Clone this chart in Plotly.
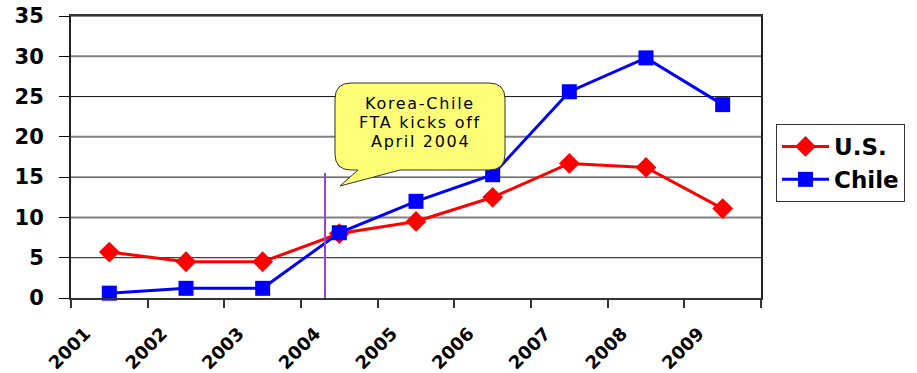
import plotly.graph_objects as go

years = ["2001", "2002", "2003", "2004", "2005", "2006", "2007", "2008", "2009"]
us_values = [5.7, 4.5, 4.5, 8.0, 9.5, 12.5, 16.7, 16.2, 11.1]
chile_values = [0.6, 1.2, 1.2, 8.1, 12.0, 15.3, 25.6, 29.8, 24.0]
y_ticks = [0, 5, 10, 15, 20, 25, 30, 35]
callout_lines = ["Korea-Chile", "FTA kicks off", "April 2004"]

W, H = 917, 373
L, T = 71, 16
PW, PH = 690, 282
R, B = W - L - PW, H - T - PH
YMAX = 35
NCAT = len(years)

# helpers mapping page-pixel positions to axis coordinates
def px2x(px):
    return (px - L) / (PW / NCAT) - 0.5

def py2y(py):
    return (T + PH - py) / (PH / YMAX)

BIG = "DejaVu Sans, Verdana, sans-serif"
SMALL = "DejaVu Sans, Arial, sans-serif"

fig = go.Figure()

# gridlines: the reference renders 10/20/30 grey and slightly thicker, 5/15/25/35 black
for i, v in enumerate(y_ticks[1:], start=1):
    grey = (i % 2 == 0)
    fig.add_shape(type="line", xref="paper", yref="y", x0=0, x1=1, y0=v, y1=v,
                  line=dict(color="#808080" if grey else "#111111", width=2 if grey else 1),
                  layer="between")

fig.add_trace(go.Scatter(
    x=years, y=us_values, name="U.S.", mode="lines+markers",
    line=dict(color="#FF0000", width=3),
    marker=dict(symbol="diamond", size=16, color="#FF0000"),
    cliponaxis=False,
))
fig.add_trace(go.Scatter(
    x=years, y=chile_values, name="Chile", mode="lines+markers",
    line=dict(color="#0000FF", width=3),
    marker=dict(symbol="square", size=15, color="#0000FF"),
    cliponaxis=False,
))

# Callout bubble (rounded rectangle with a tail)
x0, x1, y0, y1, r = 335, 505, 83, 170, 16
tail_l, tail_r, tip = 358, 400, (340, 186)
def P(px, py):
    return f"{px2x(px):.4f},{py2y(py):.4f}"
path = (
    f"M {P(x0 + r, y0)} L {P(x1 - r, y0)} Q {P(x1, y0)} {P(x1, y0 + r)} "
    f"L {P(x1, y1 - r)} Q {P(x1, y1)} {P(x1 - r, y1)} "
    f"L {P(tail_r, y1)} L {P(*tip)} L {P(tail_l, y1)} "
    f"L {P(x0 + r, y1)} Q {P(x0, y1)} {P(x0, y1 - r)} "
    f"L {P(x0, y0 + r)} Q {P(x0, y0)} {P(x0 + r, y0)} Z"
)
fig.add_shape(type="path", path=path, xref="x", yref="y",
              fillcolor="#FFFF77", line=dict(color="#333333", width=1), layer="above")
for i, line_text in enumerate(callout_lines):
    fig.add_annotation(x=px2x((x0 + x1) / 2), y=py2y(103 + 19 * i), xref="x", yref="y",
                       text=f'<span style="letter-spacing:1.7px">{line_text}</span>',
                       showarrow=False,
                       font=dict(family=SMALL, size=16, color="#000000"))

# Purple vertical marker line (April 2004)
fig.add_shape(type="line", xref="x", yref="y",
              x0=px2x(325), x1=px2x(325),
              y0=py2y(330), y1=py2y(173),
              line=dict(color="#A040D0", width=2), layer="above")

fig.update_layout(
    width=W, height=H,
    margin=dict(l=L, r=R, t=T, b=B, pad=0, autoexpand=False),
    paper_bgcolor="white", plot_bgcolor="white",
    font=dict(family=BIG, color="#000000"),
    showlegend=True,
    legend=dict(
        x=(776 - L) / PW, y=(T + PH - 124) / PH,
        xanchor="left", yanchor="top",
        bordercolor="#333333", borderwidth=1, bgcolor="white",
        font=dict(family=BIG, size=23, color="#000000", weight="bold"),
        itemwidth=47, tracegroupgap=0,
    ),
    xaxis=dict(
        type="category", range=[-0.5, NCAT - 0.5], automargin=False,
        tickson="boundaries", ticks="outside", ticklen=8, tickcolor="#333333",
        tickwidth=2,
        showline=True, linecolor="#333333", linewidth=2, mirror=True,
        showgrid=False, tickangle=-45, ticklabeloverflow="allow",
        tickfont=dict(family=BIG, size=18, color="#000000", weight="bold"),
        ticklabelshift=-24, ticklabelstandoff=16,
    ),
    yaxis=dict(
        range=[0, YMAX], tickvals=y_ticks, automargin=False,
        ticks="outside", ticklen=10, tickcolor="#000000", tickwidth=1,
        showline=True, linecolor="#222222", linewidth=2, mirror=True,
        showgrid=False, zeroline=False, ticklabeloverflow="allow",
        tickfont=dict(family=BIG, size=21, color="#000000", weight="bold"),
        ticklabelstandoff=11,
    ),
)

fig.write_html("out.html", config={"displayModeBar": False},
               post_script="document.body.style.margin='0';document.body.style.overflow='hidden';")
